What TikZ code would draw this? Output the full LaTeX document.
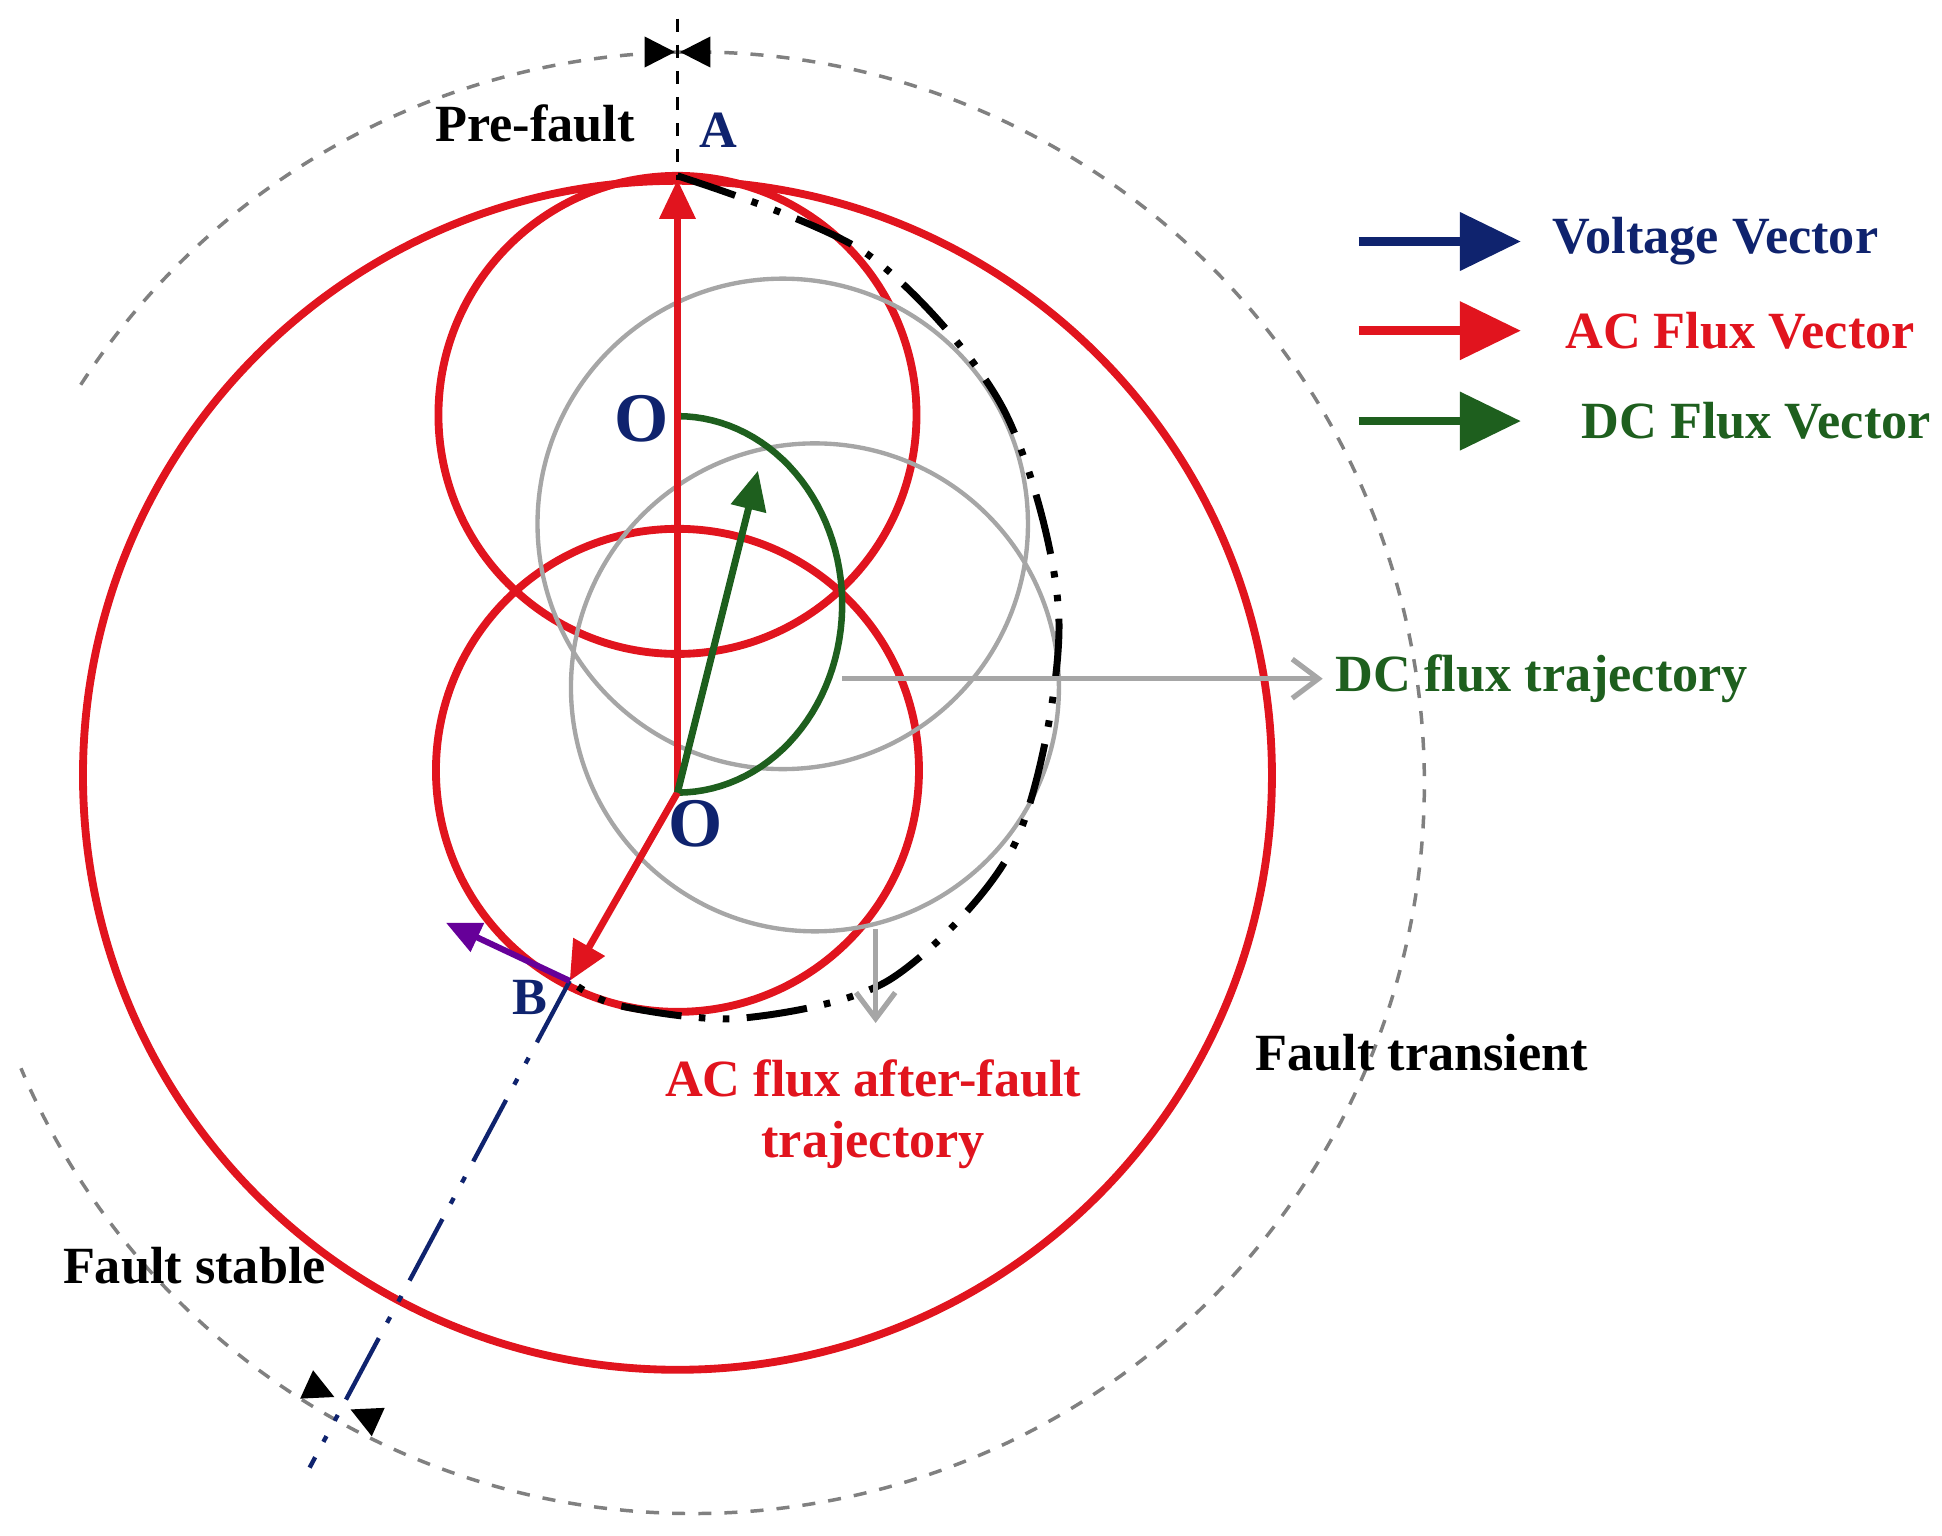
\documentclass[tikz,border=0pt]{standalone}
\usepackage{fontspec}
\setmainfont{Liberation Serif}
\usetikzlibrary{arrows.meta}
\definecolor{acred}{RGB}{225,20,30}
\definecolor{dcgreen}{RGB}{30,95,30}
\definecolor{volt}{RGB}{15,35,110}
\tikzset{
    lbl/.style={font=\bfseries\fontsize{12}{14}\selectfont},
    acvec/.style={acred,line width=1.6pt,-{Triangle[length=9pt,width=8pt]}},
    ring/.style={acred,line width=1.8pt},
    dcring/.style={gray!70,line width=1pt},
    pointer/.style={gray!70,line width=1.2pt,-{Straight Barb[length=6pt,width=9pt]}},
    tick/.style={-{Triangle[length=7pt,width=7pt]},line width=0.6pt}
}
\begin{document}
\begin{tikzpicture}[x=0.01cm,y=-0.01cm]
    \useasboundingbox (0,0) rectangle (1568,1240);

    % named points
    \coordinate (O) at (547,640);
    \coordinate (A) at (547,145);
    \coordinate (B) at (460,792);
    \coordinate (Otop) at (547,337);
    \coordinate (C) at (560,632);

    % outer dashed circle (with gap on the left)
    \draw [gray,dashed,line width=0.8pt] (C) ++(213:590) arc [start angle=213,end angle=517,radius=590];

    % AC flux circles
    \draw [ring] (547,626) circle (480);
    \draw [ring] (547,335) circle (193);
    \draw [ring] (547,622) circle (195);

    % DC flux circles
    \draw [dcring] (632,423) circle (198);
    \draw [dcring] (658,555) circle (197);

    % after-fault trajectory
    \draw [line width=1.6pt,dash pattern=on 14pt off 4pt on 1.5pt off 4pt on 1.5pt off 4pt]
        plot [smooth] coordinates {(547,142) (700,205) (810,330) (855,500) (820,680) (720,790) (600,822) (500,812) (460,792)};

    % DC flux trajectory arc
    \draw [dcgreen,line width=1.5pt] plot [domain=-90:90,samples=60] ({547+133*cos(\x)},{488+152*sin(\x)});

    % vertical dashed axis and B line
    \draw [black,dashed,line width=0.8pt] (547,15) -- (A);
    \draw [volt,line width=1pt,dash pattern=on 16pt off 4pt on 1.5pt off 4pt on 1.5pt off 4pt] (B) -- (250,1185);

    % vectors
    \draw [acvec] (O) -- (A);
    \draw [acvec] (O) -- (B);
    \draw [dcgreen,line width=1.6pt,-{Triangle[length=9pt,width=8pt]}] (O) -- (612,380);
    \draw [violet!80!blue,line width=1.4pt,-{Triangle[length=8pt,width=7pt]}] (B) -- (360,745);

    % tick marks
    \draw [tick] (527,42) -- (545,42);
    \draw [tick] (567,42) -- (549,42);
    \draw [tick] (248,1118) -- (270,1128);
    \draw [tick] (305,1148) -- (283,1138);

    % pointers
    \coordinate (dcp) at (680,548);
    \coordinate (acp) at (707,750);
    \node [lbl,dcgreen] (dclab) at (1245,548) {DC flux trajectory};
    \draw [pointer] (dcp) -- (1068,548);
    \node [lbl,acred,align=center] (aclab) at (705,900) {AC flux after-fault\\trajectory};
    \draw [pointer] (acp) -- (707,826);

    % labels
    \node [lbl] (pre) at (432,100) {Pre-fault};
    \node [lbl,volt] (Alab) at (580,105) {A};
    \node [lbl,volt,font=\bfseries\fontsize{16}{18}\selectfont] (Olab1) at (518,338) {O};
    \node [lbl,volt,font=\bfseries\fontsize{16}{18}\selectfont] (Olab2) at (562,665) {O};
    \node [lbl,volt] (Blab) at (428,805) {B};
    \node [lbl] (ftr) at (1148,850) {Fault transient};
    \node [lbl] (fst) at (157,1022) {Fault stable};

    % legend
    \foreach \yy/\col/\txt/\xx in {195/volt/Voltage Vector/1385,267/acred/AC Flux Vector/1405,340/dcgreen/DC Flux Vector/1418} {
        \coordinate (ls\yy) at (1097,\yy);
        \coordinate (le\yy) at (1228,\yy);
        \draw [\col,line width=2pt,-{Triangle[length=14pt,width=13pt]}] (ls\yy) -- (le\yy);
        \node [lbl,\col] (leg\yy) at (\xx,\yy) {\txt};
    }
\end{tikzpicture}
\end{document}
